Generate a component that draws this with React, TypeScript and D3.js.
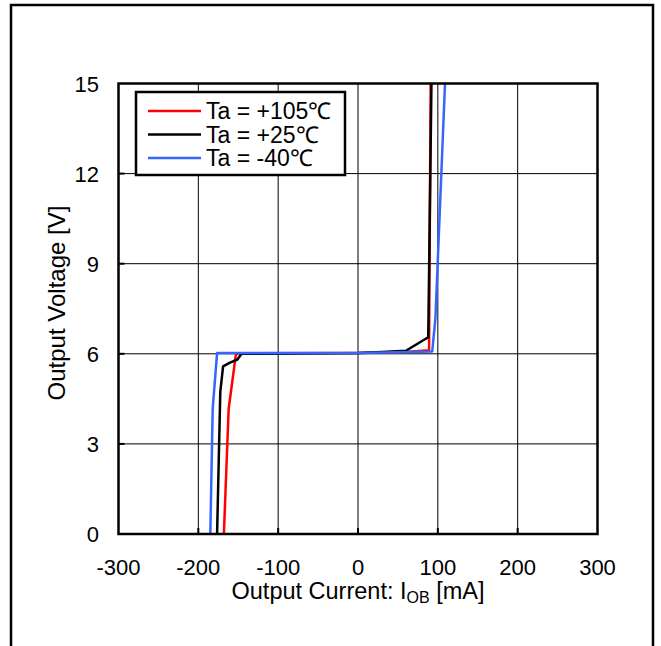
import React from "react";
import * as d3 from "d3";

// Output voltage vs. output current at three ambient temperatures
const redCurrent = [-168, -162, -153, -150, 0, 60, 89, 91];
const redVoltage = [0, 4.17, 5.97, 6.02, 6.03, 6.06, 6.12, 15];

const blackCurrent = [-176.5, -172.5, -169, -161, -151, -146, 0, 30, 60, 88, 92];
const blackVoltage = [0, 4.73, 5.58, 5.7, 5.81, 6.0, 6.03, 6.06, 6.1, 6.55, 15];

const blueCurrent = [-185, -182, -176.5, 0, 93, 97, 109];
const blueVoltage = [0, 4.17, 6.03, 6.03, 6.08, 7.2, 15];

const xTicks = [-300, -200, -100, 0, 100, 200, 300];
const yTicks = [0, 3, 6, 9, 12, 15];

const seriesNames = ["Ta = +105\u2103", "Ta = +25\u2103", "Ta = -40\u2103"];
const seriesColors = ["#ff0000", "#000000", "#3366ff"];

const W = 661;
const H = 646;
const FONT = "Arial, 'Liberation Sans', Helvetica, sans-serif";

export default function App() {
  const x = d3.scaleLinear().domain([-300, 300]).range([118.5, 597.5]);
  const y = d3.scaleLinear().domain([0, 15]).range([534, 83.5]);

  const series = [
    { c: redCurrent, v: redVoltage },
    { c: blackCurrent, v: blackVoltage },
    { c: blueCurrent, v: blueVoltage },
  ].map((s, i) => ({
    name: seriesNames[i],
    color: seriesColors[i],
    pts: s.c.map((c, k) => [c, s.v[k]] as [number, number]),
  }));

  const line = d3
    .line<[number, number]>()
    .x((d) => x(d[0]))
    .y((d) => y(d[1]));

  const [x0, x1] = x.range();
  const [y0, y1] = y.range();

  return (
    <svg
      width={W}
      height={H}
      style={{ position: "absolute", left: 0, top: 0, background: "#fff" }}
      fontFamily={FONT}
    >
      {/* outer frame */}
      <rect x={11} y={5} width={642} height={660} fill="none" stroke="#000" strokeWidth={2.5} />

      {/* grid */}
      {xTicks.slice(1, -1).map((t) => (
        <line key={"gx" + t} x1={x(t)} x2={x(t)} y1={y1} y2={y0} stroke="#000" strokeWidth={1} />
      ))}
      {yTicks.slice(1, -1).map((t) => (
        <line key={"gy" + t} x1={x0} x2={x1} y1={y(t)} y2={y(t)} stroke="#000" strokeWidth={1} />
      ))}

      {/* inward tick marks */}
      {xTicks.slice(1, -1).map((t) => (
        <line key={"tx" + t} x1={x(t)} x2={x(t)} y1={y0} y2={y0 - 6} stroke="#000" strokeWidth={2} />
      ))}
      {yTicks.slice(1, -1).map((t) => (
        <line key={"ty" + t} x1={x0} x2={x0 + 6} y1={y(t)} y2={y(t)} stroke="#000" strokeWidth={2} />
      ))}

      {/* data */}
      {series.map((s) => (
        <path
          key={s.name}
          d={line(s.pts) ?? ""}
          fill="none"
          stroke={s.color}
          strokeWidth={2.5}
          strokeLinejoin="round"
        />
      ))}

      {/* plot frame */}
      <rect x={x0} y={y1} width={x1 - x0} height={y0 - y1} fill="none" stroke="#000" strokeWidth={2.5} />

      {/* tick labels */}
      {xTicks.map((t) => (
        <text key={"lx" + t} x={x(t)} y={575} fontSize={22} textAnchor="middle" fill="#000">
          {t}
        </text>
      ))}
      {yTicks.map((t) => (
        <text key={"ly" + t} x={99} y={y(t) + 8} fontSize={22} textAnchor="end" fill="#000">
          {t}
        </text>
      ))}

      {/* axis titles */}
      <text x={358} y={599} fontSize={23.5} textAnchor="middle" fill="#000">
        Output Current: I
        <tspan fontSize={16} dy={4}>OB</tspan>
        <tspan dy={-4}> [mA]</tspan>
      </text>
      <text
        transform="translate(65,303) rotate(-90)"
        fontSize={24}
        textAnchor="middle"
        fill="#000"
      >
        Output Voltage [V]
      </text>

      {/* legend */}
      <rect x={136} y={92} width={209} height={83} fill="#fff" stroke="#000" strokeWidth={2.5} />
      {series.map((s, i) => {
        const cy = 111 + i * 23.5;
        return (
          <g key={"lg" + i}>
            <line x1={148} x2={201} y1={cy} y2={cy} stroke={s.color} strokeWidth={2.5} />
            <text x={206} y={cy + 8} fontSize={23} fill="#000">
              {s.name}
            </text>
          </g>
        );
      })}
    </svg>
  );
}
